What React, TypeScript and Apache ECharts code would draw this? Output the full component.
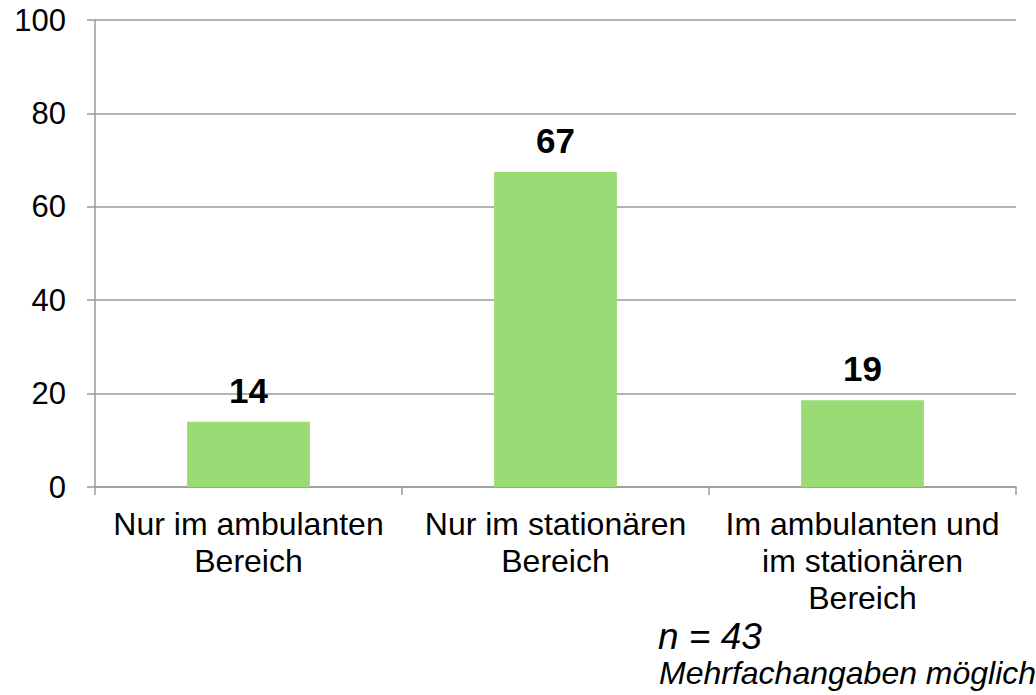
import React, { useEffect, useRef } from "react";
import * as echarts from "echarts";

const categories = [
  "Nur im ambulanten\nBereich",
  "Nur im stationären\nBereich",
  "Im ambulanten und\nim stationären\nBereich",
];
const values = [13.95, 67.44, 18.6];
const yTicks = [0, 20, 40, 60, 80, 100];
const noteN = "n = 43";
const noteMulti = "Mehrfachangaben möglich";

const FONT = "'Liberation Sans', Arial, sans-serif";
const GRAY = "#9a9a9a";

export default function App() {
  const ref = useRef<HTMLDivElement>(null);
  useEffect(() => {
    if (!ref.current) return;
    const chart = echarts.init(ref.current, undefined, { renderer: "svg" });
    chart.setOption({
      animation: false,
      textStyle: { fontFamily: FONT },
      grid: { left: 95, right: 20, top: 20, bottom: 208, containLabel: false },
      xAxis: {
        type: "category",
        data: categories,
        axisLine: { lineStyle: { color: GRAY, width: 1.5 } },
        axisTick: { show: true, length: 8, lineStyle: { color: GRAY, width: 1.5 } },
        axisLabel: {
          color: "#000",
          fontSize: 32,
          lineHeight: 37,
          margin: 18,
          fontFamily: FONT,
          interval: 0,
        },
      },
      yAxis: {
        type: "value",
        min: yTicks[0],
        max: yTicks[yTicks.length - 1],
        interval: 20,
        axisLine: { show: true, lineStyle: { color: GRAY, width: 1.5 } },
        axisTick: { show: true, length: 8, lineStyle: { color: GRAY, width: 1.5 } },
        splitLine: { show: true, lineStyle: { color: GRAY, width: 1.5 } },
        axisLabel: { color: "#000", fontSize: 31, margin: 29, fontFamily: FONT },
      },
      series: [
        {
          type: "bar",
          data: values,
          barWidth: "40%",
          itemStyle: { color: "#9bdb75" },
          label: {
            show: true,
            position: "top",
            distance: 14,
            color: "#000",
            fontSize: 35,
            fontWeight: "bold",
            fontFamily: FONT,
            formatter: (p: any) => String(Math.round(p.value)),
          },
        },
      ],
      graphic: [
        {
          type: "text",
          left: 658,
          top: 618,
          style: {
            text: noteN,
            fontSize: 37,
            fontStyle: "italic",
            fontFamily: FONT,
            fill: "#000",
          },
        },
        {
          type: "text",
          left: 659,
          top: 657,
          style: {
            text: noteMulti,
            fontSize: 32,
            fontStyle: "italic",
            fontFamily: FONT,
            fill: "#000",
          },
        },
      ],
    });
    return () => chart.dispose();
  }, []);
  return <div ref={ref} style={{ width: 1036, height: 695, position: "absolute", left: 0, top: 0 }} />;
}
